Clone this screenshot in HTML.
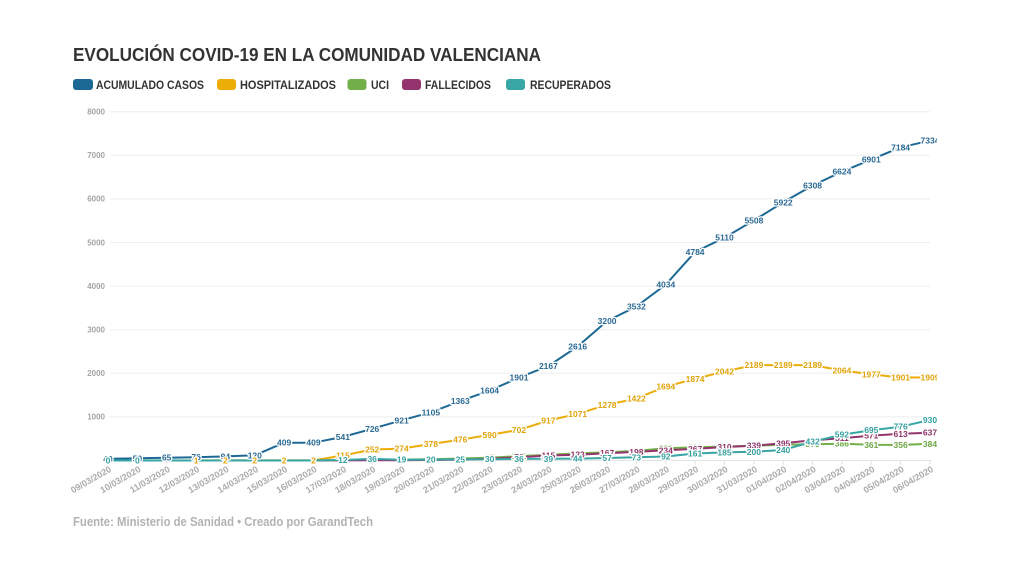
<!DOCTYPE html>
<html><head><meta charset="utf-8"><style>
html,body{margin:0;padding:0;background:#fff;}
svg{display:block;}
.t{font-family:"Liberation Sans",sans-serif;font-weight:bold;}
.yl{font-family:"Liberation Sans",sans-serif;font-weight:bold;font-size:8px;fill:#a5a5a5;text-anchor:end;}
.xl text{font-family:"Liberation Sans",sans-serif;font-weight:bold;font-size:9px;fill:#ababab;text-anchor:end;}
.lb text{font-family:"Liberation Sans",sans-serif;font-weight:bold;font-size:8.5px;text-anchor:middle;stroke:#fff;stroke-width:2.6px;paint-order:stroke;stroke-linejoin:round;}
.ln{fill:none;stroke-width:2;stroke-linejoin:round;}
</style></head><body>
<svg width="1028" height="578" viewBox="0 0 1028 578" xmlns="http://www.w3.org/2000/svg">
<rect width="1028" height="578" fill="#fff"/>
<text class="t" x="73" y="61" font-size="18.5" fill="#333" textLength="468" lengthAdjust="spacingAndGlyphs">EVOLUCIÓN COVID-19 EN LA COMUNIDAD VALENCIANA</text>

<rect x="73" y="79" width="20" height="11" rx="3" fill="#1D6996"/>
<text class="t" x="96" y="89" font-size="12" fill="#333" textLength="108" lengthAdjust="spacingAndGlyphs">ACUMULADO CASOS</text>
<rect x="217" y="79" width="19" height="11" rx="3" fill="#EDAD08"/>
<text class="t" x="240" y="89" font-size="12" fill="#333" textLength="96" lengthAdjust="spacingAndGlyphs">HOSPITALIZADOS</text>
<rect x="347.5" y="79" width="19" height="11" rx="3" fill="#73AF48"/>
<text class="t" x="371" y="89" font-size="12" fill="#333" textLength="18" lengthAdjust="spacingAndGlyphs">UCI</text>
<rect x="402" y="79" width="19" height="11" rx="3" fill="#94346E"/>
<text class="t" x="425" y="89" font-size="12" fill="#333" textLength="66" lengthAdjust="spacingAndGlyphs">FALLECIDOS</text>
<rect x="506" y="79" width="19" height="11" rx="3" fill="#38A6A5"/>
<text class="t" x="530" y="89" font-size="12" fill="#333" textLength="81" lengthAdjust="spacingAndGlyphs">RECUPERADOS</text>

<g stroke="#eeeeee" stroke-width="1">
<line x1="110" x2="930" y1="111.7" y2="111.7"/>
<line x1="110" x2="930" y1="155.3" y2="155.3"/>
<line x1="110" x2="930" y1="198.9" y2="198.9"/>
<line x1="110" x2="930" y1="242.5" y2="242.5"/>
<line x1="110" x2="930" y1="286.1" y2="286.1"/>
<line x1="110" x2="930" y1="329.7" y2="329.7"/>
<line x1="110" x2="930" y1="373.3" y2="373.3"/>
<line x1="110" x2="930" y1="416.9" y2="416.9"/>
</g>
<line x1="105" x2="932" y1="460.5" y2="460.5" stroke="#e2e2e2" stroke-width="1"/>
<g stroke="#e2e2e2" stroke-width="1">
<path d="M108 460.5v4M137.4 460.5v4M166.7 460.5v4M196.1 460.5v4M225.4 460.5v4M254.8 460.5v4M284.1 460.5v4M313.5 460.5v4M342.9 460.5v4M372.2 460.5v4M401.6 460.5v4M430.9 460.5v4M460.3 460.5v4M489.6 460.5v4M519 460.5v4M548.4 460.5v4M577.7 460.5v4M607.1 460.5v4M636.4 460.5v4M665.8 460.5v4M695.1 460.5v4M724.5 460.5v4M753.9 460.5v4M783.2 460.5v4M812.6 460.5v4M841.9 460.5v4M871.3 460.5v4M900.6 460.5v4M930 460.5v4"/>
</g>

<text class="yl" x="105" y="114.5">8000</text>
<text class="yl" x="105" y="158.1">7000</text>
<text class="yl" x="105" y="201.7">6000</text>
<text class="yl" x="105" y="245.3">5000</text>
<text class="yl" x="105" y="288.9">4000</text>
<text class="yl" x="105" y="332.5">3000</text>
<text class="yl" x="105" y="376.1">2000</text>
<text class="yl" x="105" y="419.7">1000</text>

<g class="xl">
<text transform="translate(112,471) rotate(-30)">09/03/2020</text>
<text transform="translate(141.4,471) rotate(-30)">10/03/2020</text>
<text transform="translate(170.7,471) rotate(-30)">11/03/2020</text>
<text transform="translate(200.1,471) rotate(-30)">12/03/2020</text>
<text transform="translate(229.4,471) rotate(-30)">13/03/2020</text>
<text transform="translate(258.8,471) rotate(-30)">14/03/2020</text>
<text transform="translate(288.1,471) rotate(-30)">15/03/2020</text>
<text transform="translate(317.5,471) rotate(-30)">16/03/2020</text>
<text transform="translate(346.9,471) rotate(-30)">17/03/2020</text>
<text transform="translate(376.2,471) rotate(-30)">18/03/2020</text>
<text transform="translate(405.6,471) rotate(-30)">19/03/2020</text>
<text transform="translate(434.9,471) rotate(-30)">20/03/2020</text>
<text transform="translate(464.3,471) rotate(-30)">21/03/2020</text>
<text transform="translate(493.6,471) rotate(-30)">22/03/2020</text>
<text transform="translate(523,471) rotate(-30)">23/03/2020</text>
<text transform="translate(552.4,471) rotate(-30)">24/03/2020</text>
<text transform="translate(581.7,471) rotate(-30)">25/03/2020</text>
<text transform="translate(611.1,471) rotate(-30)">26/03/2020</text>
<text transform="translate(640.4,471) rotate(-30)">27/03/2020</text>
<text transform="translate(669.8,471) rotate(-30)">28/03/2020</text>
<text transform="translate(699.1,471) rotate(-30)">29/03/2020</text>
<text transform="translate(728.5,471) rotate(-30)">30/03/2020</text>
<text transform="translate(757.9,471) rotate(-30)">31/03/2020</text>
<text transform="translate(787.2,471) rotate(-30)">01/04/2020</text>
<text transform="translate(816.6,471) rotate(-30)">02/04/2020</text>
<text transform="translate(845.9,471) rotate(-30)">03/04/2020</text>
<text transform="translate(875.3,471) rotate(-30)">04/04/2020</text>
<text transform="translate(904.6,471) rotate(-30)">05/04/2020</text>
<text transform="translate(934,471) rotate(-30)">06/04/2020</text>
</g>

<defs><clipPath id="c"><rect x="0" y="0" width="937" height="578"/></clipPath></defs>
<g clip-path="url(#c)">
<polyline class="ln" stroke="#1D6996" points="108,458.8 137.4,458.3 166.7,457.7 196.1,457.2 225.4,456.4 254.8,455.3 284.1,442.7 313.5,442.7 342.9,436.9 372.2,428.8 401.6,420.3 430.9,412.3 460.3,401.1 489.6,390.6 519,377.6 548.4,366 577.7,346.4 607.1,321 636.4,306.5 665.8,284.6 695.1,251.9 724.5,237.7 753.9,220.4 783.2,202.3 812.6,185.5 841.9,171.7 871.3,159.6 900.6,147.3 930,140.7"/>
<polyline class="ln" stroke="#EDAD08" points="196.1,460.4 225.4,460.4 254.8,460.4 284.1,460.4 313.5,460.4 342.9,455.5 372.2,449.5 401.6,448.6 430.9,444 460.3,439.7 489.6,434.8 519,429.9 548.4,420.5 577.7,413.8 607.1,404.8 636.4,398.5 665.8,386.6 695.1,378.8 724.5,371.5 753.9,365.1 783.2,365.1 812.6,365.1 841.9,370.5 871.3,374.3 900.6,377.6 930,377.3"/>
<polyline class="ln" stroke="#73AF48" points="108,460.5 137.4,460.5 166.7,460.4 196.1,460.5 225.4,460.4 254.8,460.4 284.1,460.4 313.5,460.4 342.9,460 372.2,459.8 401.6,459.6 430.9,459.2 460.3,458.5 489.6,457.7 519,456.1 548.4,454.8 577.7,453.4 607.1,452.2 636.4,450.9 665.8,448.3 695.1,447.4 724.5,446.5 753.9,445.7 783.2,444.8 812.6,444.2 841.9,443.7 871.3,444.8 900.6,445 930,443.8"/>
<polyline class="ln" stroke="#94346E" points="108,460.5 137.4,460.5 166.7,460.5 196.1,460.5 225.4,460.5 254.8,460.5 284.1,460.5 313.5,460.5 342.9,460.4 372.2,460.3 401.6,460.2 430.9,460 460.3,459.6 489.6,458.8 519,457.2 548.4,455.5 577.7,454.7 607.1,453.2 636.4,451.9 665.8,450.3 695.1,448.9 724.5,447 753.9,445.7 783.2,443.3 812.6,440.3 841.9,438.2 871.3,435.6 900.6,433.8 930,432.7"/>
<polyline class="ln" stroke="#38A6A5" points="108,460.5 137.4,460.5 166.7,460.5 196.1,460.5 225.4,460.5 254.8,460.5 284.1,460.5 313.5,460.5 342.9,460 372.2,458.9 401.6,459.7 430.9,459.6 460.3,459.4 489.6,459.2 519,458.9 548.4,458.8 577.7,458.6 607.1,458 636.4,457.3 665.8,456.5 695.1,453.5 724.5,452.4 753.9,451.8 783.2,450 812.6,441.7 841.9,434.7 871.3,430.2 900.6,426.7 930,420"/>

<g class="lb" fill="#2a6a94">
<text x="108" y="461.8">40</text><text x="137.4" y="461.3">50</text><text x="166.7" y="460.7">65</text><text x="196.1" y="460.2">76</text><text x="225.4" y="459.4">94</text><text x="254.8" y="458.3">120</text><text x="284.1" y="445.7">409</text><text x="313.5" y="445.7">409</text><text x="342.9" y="439.9">541</text><text x="372.2" y="431.8">726</text><text x="401.6" y="423.3">921</text><text x="430.9" y="415.3">1105</text><text x="460.3" y="404.1">1363</text><text x="489.6" y="393.6">1604</text><text x="519" y="380.6">1901</text><text x="548.4" y="369">2167</text><text x="577.7" y="349.4">2616</text><text x="607.1" y="324">3200</text><text x="636.4" y="309.5">3532</text><text x="665.8" y="287.6">4034</text><text x="695.1" y="254.9">4784</text><text x="724.5" y="240.7">5110</text><text x="753.9" y="223.4">5508</text><text x="783.2" y="205.3">5922</text><text x="812.6" y="188.5">6308</text><text x="841.9" y="174.7">6624</text><text x="871.3" y="162.6">6901</text><text x="900.6" y="150.3">7184</text><text x="930" y="143.7">7334</text>
</g>
<g class="lb" fill="#e0a40a">
<text x="196.1" y="463.4">1</text><text x="225.4" y="463.4">2</text><text x="254.8" y="463.4">2</text><text x="284.1" y="463.4">2</text><text x="313.5" y="463.4">2</text><text x="342.9" y="458.5">115</text><text x="372.2" y="452.5">252</text><text x="401.6" y="451.6">274</text><text x="430.9" y="447">378</text><text x="460.3" y="442.7">476</text><text x="489.6" y="437.8">590</text><text x="519" y="432.9">702</text><text x="548.4" y="423.5">917</text><text x="577.7" y="416.8">1071</text><text x="607.1" y="407.8">1278</text><text x="636.4" y="401.5">1422</text><text x="665.8" y="389.6">1694</text><text x="695.1" y="381.8">1874</text><text x="724.5" y="374.5">2042</text><text x="753.9" y="368.1">2189</text><text x="783.2" y="368.1">2189</text><text x="812.6" y="368.1">2189</text><text x="841.9" y="373.5">2064</text><text x="871.3" y="377.3">1977</text><text x="900.6" y="380.6">1901</text><text x="930" y="380.3">1909</text>
</g>
<g class="lb" fill="#6ea845">
<text x="430.9" y="462.2">30</text><text x="460.3" y="461.5">45</text><text x="489.6" y="460.7">65</text><text x="519" y="459.1">101</text><text x="548.4" y="457.8">130</text><text x="577.7" y="456.4">163</text><text x="607.1" y="455.2">190</text><text x="636.4" y="453.9">220</text><text x="665.8" y="451.3">281</text><text x="695.1" y="450.4">300</text><text x="724.5" y="449.5">320</text><text x="753.9" y="448.7">340</text><text x="783.2" y="447.8">360</text><text x="812.6" y="447.2">373</text><text x="841.9" y="446.7">386</text><text x="871.3" y="447.8">361</text><text x="900.6" y="448">356</text><text x="930" y="446.8">384</text>
</g>
<g class="lb" fill="#8f3569">
<text x="489.6" y="461.8">40</text><text x="519" y="460.2">76</text><text x="548.4" y="458.5">115</text><text x="577.7" y="457.7">133</text><text x="607.1" y="456.2">167</text><text x="636.4" y="454.9">198</text><text x="665.8" y="453.3">234</text><text x="695.1" y="451.9">267</text><text x="724.5" y="450">310</text><text x="753.9" y="448.7">339</text><text x="783.2" y="446.3">395</text><text x="812.6" y="443.3">464</text><text x="841.9" y="441.2">511</text><text x="871.3" y="438.6">571</text><text x="900.6" y="436.8">613</text><text x="930" y="435.7">637</text>
</g>
<g class="lb" fill="#35a0a0">
<text x="108" y="463.5">0</text><text x="137.4" y="463.5">0</text><text x="342.9" y="463">12</text><text x="372.2" y="461.9">36</text><text x="401.6" y="462.7">19</text><text x="430.9" y="462.6">20</text><text x="460.3" y="462.4">25</text><text x="489.6" y="462.2">30</text><text x="519" y="461.9">36</text><text x="548.4" y="461.8">39</text><text x="577.7" y="461.6">44</text><text x="607.1" y="461">57</text><text x="636.4" y="460.3">73</text><text x="665.8" y="459.5">92</text><text x="695.1" y="456.5">161</text><text x="724.5" y="455.4">185</text><text x="753.9" y="454.8">200</text><text x="783.2" y="453">240</text><text x="812.6" y="444.7">432</text><text x="841.9" y="437.7">592</text><text x="871.3" y="433.2">695</text><text x="900.6" y="429.7">776</text><text x="930" y="423">930</text>
</g>
</g>

<text class="t" x="73" y="526" font-size="13" fill="#b3b3b3" textLength="300" lengthAdjust="spacingAndGlyphs">Fuente: Ministerio de Sanidad • Creado por GarandTech</text>
</svg>
</body></html>
